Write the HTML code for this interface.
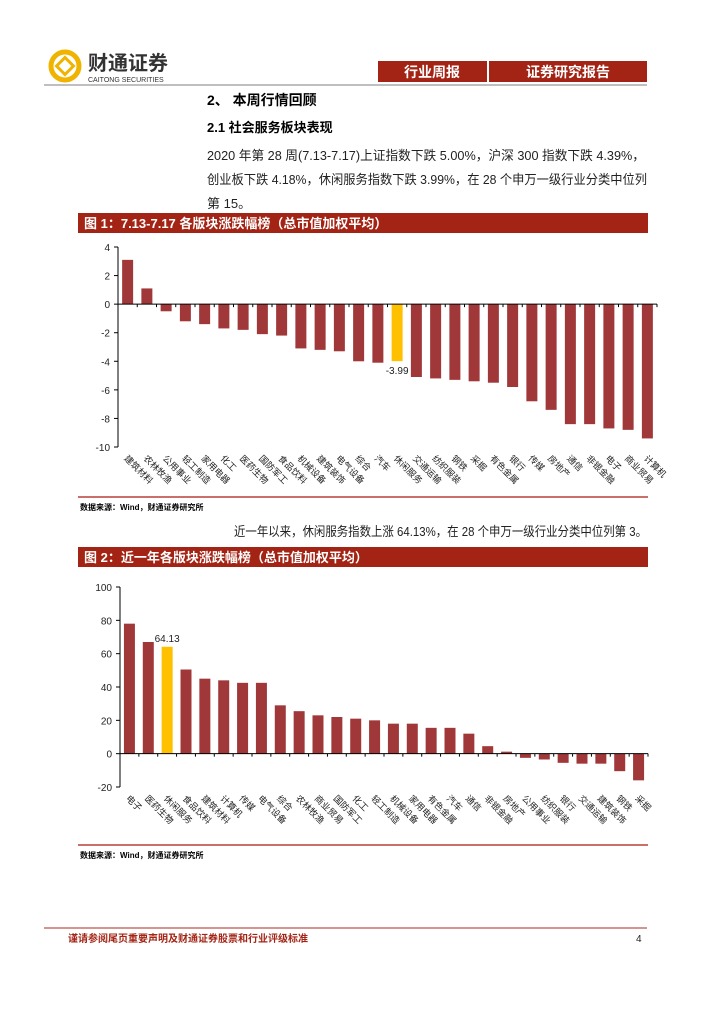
<!DOCTYPE html>
<html><head><meta charset="utf-8"><style>
body{margin:0;width:724px;height:1024px;background:#fff;font-family:"Liberation Sans","Noto Sans CJK SC",sans-serif;overflow:hidden}
svg{position:absolute;left:0;top:0}
</style></head><body>
<svg width="724" height="1024" font-family="Liberation Sans, Noto Sans CJK SC, sans-serif">
<g>
<circle cx="65" cy="66" r="14" fill="none" stroke="#f0b400" stroke-width="5"/>
<rect x="59" y="60" width="12" height="12" fill="none" stroke="#f0b400" stroke-width="3" transform="rotate(45 65 66)"/>
<text x="88" y="70" font-size="20" font-weight="bold" fill="#333">财通证券</text>
<text x="88" y="82" font-size="7" fill="#333">CAITONG SECURITIES</text>
</g>
<rect x="378" y="61" width="109" height="21" fill="#a32415"/>
<text x="432" y="77" font-size="14" font-weight="bold" fill="#fff" text-anchor="middle">行业周报</text>
<rect x="489" y="61" width="158" height="21" fill="#a32415"/>
<text x="568" y="77" font-size="14" font-weight="bold" fill="#fff" text-anchor="middle">证券研究报告</text>
<line x1="44" y1="85" x2="647" y2="85" stroke="#aaa" stroke-width="1.5"/>
<text x="207" y="105" font-size="14" font-weight="bold">2、 本周行情回顾</text>
<text x="207" y="132" font-size="13" font-weight="bold">2.1  社会服务板块表现</text>
<g font-size="13" fill="#222">
<text x="207" y="160" textLength="438" lengthAdjust="spacingAndGlyphs">2020 年第 28 周(7.13-7.17)上证指数下跌 5.00%，沪深 300 指数下跌 4.39%，</text>
<text x="207" y="184" textLength="440" lengthAdjust="spacingAndGlyphs">创业板下跌 4.18%，休闲服务指数下跌 3.99%，在 28 个申万一级行业分类中位列</text>
<text x="207" y="208">第 15。</text>
</g>
<rect x="78" y="213" width="570" height="20" fill="#a32415"/>
<text x="84" y="228" font-size="13" font-weight="bold" fill="#fff">图 1：7.13-7.17 各版块涨跌幅榜（总市值加权平均）</text>
<g id="c1"></g>
<line x1="78" y1="497" x2="648" y2="497" stroke="#c9706a" stroke-width="2"/>
<text x="80" y="510" font-size="8" font-weight="bold">数据来源：Wind，财通证券研究所</text>
<text x="234" y="536" font-size="13" fill="#222" textLength="413" lengthAdjust="spacingAndGlyphs">近一年以来，休闲服务指数上涨 64.13%，在 28 个申万一级行业分类中位列第 3。</text>
<rect x="78" y="547" width="570" height="20" fill="#a32415"/>
<text x="84" y="562" font-size="13" font-weight="bold" fill="#fff">图 2：近一年各版块涨跌幅榜（总市值加权平均）</text>
<g id="c2"></g>
<line x1="78" y1="845" x2="648" y2="845" stroke="#c9706a" stroke-width="2"/>
<text x="80" y="858" font-size="8" font-weight="bold">数据来源：Wind，财通证券研究所</text>
<line x1="44" y1="928" x2="647" y2="928" stroke="#c9706a" stroke-width="1.5"/>
<text x="68" y="942" font-size="10" font-weight="bold" fill="#a32415">谨请参阅尾页重要声明及财通证券股票和行业评级标准</text>
<text x="636" y="942" font-size="10" fill="#222">4</text>
</svg>
<script>
const cats1=["建筑材料","农林牧渔","公用事业","轻工制造","家用电器","化工","医药生物","国防军工","食品饮料","机械设备","建筑装饰","电气设备","综合","汽车","休闲服务","交通运输","纺织服装","钢铁","采掘","有色金属","银行","传媒","房地产","通信","非银金融","电子","商业贸易","计算机"];
const vals1=[3.1,1.1,-0.5,-1.2,-1.4,-1.7,-1.8,-2.1,-2.2,-3.1,-3.2,-3.3,-4.0,-4.1,-3.99,-5.1,-5.2,-5.3,-5.4,-5.5,-5.8,-6.8,-7.4,-8.4,-8.4,-8.7,-8.8,-9.4];
const ticks1=[4,2,0,-2,-4,-6,-8,-10];
const cats2=["电子","医药生物","休闲服务","食品饮料","建筑材料","计算机","传媒","电气设备","综合","农林牧渔","商业贸易","国防军工","化工","轻工制造","机械设备","家用电器","有色金属","汽车","通信","非银金融","房地产","公用事业","纺织服装","银行","交通运输","建筑装饰","钢铁","采掘"];
const vals2=[78,67,64.13,50.5,45,44,42.5,42.5,29,25.5,23,22,21,20,18,18,15.5,15.5,12,4.5,1.2,-2.5,-3.5,-5.5,-6,-6,-10.5,-16];
const ticks2=[100,80,60,40,20,0,-20];
const NS="http://www.w3.org/2000/svg";
function mk(p,t,a){const e=document.createElementNS(NS,t);for(const k in a)e.setAttribute(k,a[k]);p.appendChild(e);return e;}
function draw(g,cats,vals,ticks,x0,x1,yTop,yBot,vMax,vMin,hi){
  const y=v=>yTop+(vMax-v)/(vMax-vMin)*(yBot-yTop);
  const step=(x1-x0)/cats.length;
  const ax=mk(g,"line",{x1:x0,y1:yTop,x2:x0,y2:yBot,stroke:"#000"});
  
  
  ticks.forEach(t=>{
    mk(g,"line",{x1:x0-4,y1:y(t),x2:x0,y2:y(t),stroke:"#000"});
    const tx=mk(g,"text",{x:x0-8,y:y(t)+4,"font-size":"10","text-anchor":"end",fill:"#222"});
    tx.textContent=t;
    
    
  });
  cats.forEach((c,i)=>{
    const cx=x0+step*(i+0.5), v=vals[i];
    const r=mk(g,"rect",{x:cx-5.5,y:Math.min(y(v),y(0)),width:11,height:Math.abs(y(v)-y(0)),fill:i===hi?"#ffc000":"#a0383a"});
    
    
    mk(g,"line",{x1:x0+step*(i+1),y1:y(0),x2:x0+step*(i+1),y2:y(0)+3,stroke:"#000"});
    const lb=mk(g,"text",{x:cx-4,y:yBot+12,"font-size":"9",fill:"#222",transform:`rotate(45 ${cx-4} ${yBot+12})`});
    lb.textContent=c;
    
    
    if(i===hi){
      const vy=v<0?y(v)+13:y(v)-5;
      const vl=mk(g,"text",{x:cx,y:vy,"font-size":"10","text-anchor":"middle",fill:"#222"});
      vl.textContent=v.toFixed(2);
      
      
    }
  });
  const zl=mk(g,"line",{x1:x0,y1:y(0),x2:x1,y2:y(0),stroke:"#000"});
  
  
}
draw(document.getElementById("c1"),cats1,vals1,ticks1,118,657,247,447,4,-10,14);
draw(document.getElementById("c2"),cats2,vals2,ticks2,120,648,587,787,100,-20,2);
</script>
</body></html>
